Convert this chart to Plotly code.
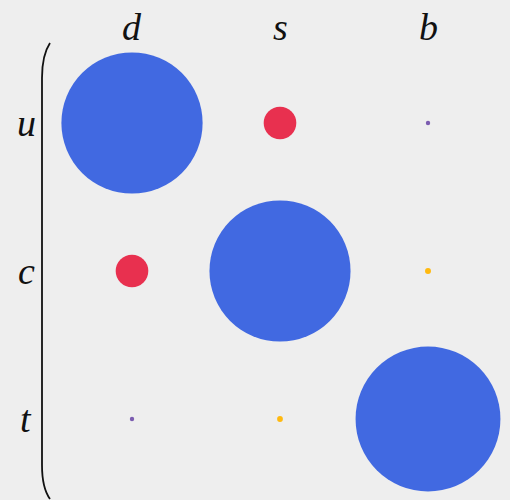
import plotly.graph_objects as go

rows = ["u", "c", "t"]
cols = ["d", "s", "b"]
values = [
    [0.974, 0.225, 0.004],
    [0.225, 0.973, 0.041],
    [0.009, 0.040, 0.999],
]
colors = [
    ["#4169E1", "#E8304F", "#7B5CB0"],
    ["#E8304F", "#4169E1", "#FFB90F"],
    ["#7B5CB0", "#FFB90F", "#4169E1"],
]

xs, ys, vs, cs = [], [], [], []
for j, r in enumerate(rows):
    for i, c in enumerate(cols):
        xs.append(i)
        ys.append(j)
        vs.append(values[j][i])
        cs.append(colors[j][i])

W, H = 510, 500
x0px, y0px, step = 132, 123, 148

fig = go.Figure(go.Scatter(
    x=xs, y=ys, mode="markers",
    marker=dict(size=vs, sizemode="diameter", sizeref=1/145, sizemin=2.2,
                color=cs, line=dict(width=0), opacity=1),
    hoverinfo="skip",
))

font = dict(family="Liberation Serif", size=38, color="#111111")
for i, c in enumerate(cols):
    fig.add_annotation(x=i, y=(27 - y0px) / step, text=f"<i>{c}</i>", showarrow=False,
                       font=font, xanchor="center", yanchor="middle")
for j, r in enumerate(rows):
    fig.add_annotation(x=(26 - x0px) / step, y=j, text=f"<i>{r}</i>", showarrow=False,
                       font=font, xanchor="center", yanchor="middle")

def px(x):
    return x / W
def py(y):
    return 1 - y / H

path = (f"M {px(50)},{py(43)} Q {px(42)},{py(55)} {px(42)},{py(78)} "
        f"L {px(42)},{py(465)} Q {px(42)},{py(488)} {px(50)},{py(499)}")
fig.add_shape(type="path", path=path, xref="paper", yref="paper",
              line=dict(color="#111111", width=1.8))

fig.update_layout(
    width=W, height=H,
    margin=dict(l=0, r=0, t=0, b=0),
    paper_bgcolor="#EEEEEE", plot_bgcolor="#EEEEEE",
    showlegend=False,
    xaxis=dict(range=[-x0px / step, (W - x0px) / step], visible=False, fixedrange=True),
    yaxis=dict(range=[(H - y0px) / step, -y0px / step], visible=False, fixedrange=True),
)

fig.write_html("out.html",
               config={"displayModeBar": False, "staticPlot": True},
               post_script="document.body.style.margin='0';document.body.style.overflow='hidden';document.body.style.background='#EEEEEE';")
